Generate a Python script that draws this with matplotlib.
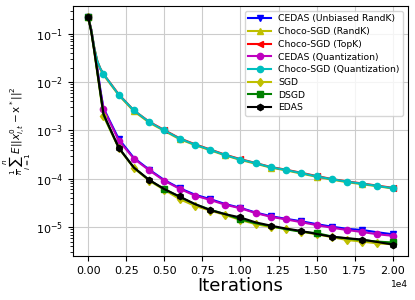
import matplotlib
matplotlib.use("Agg")
import matplotlib.pyplot as plt

iters = [0, 200, 400, 600, 800, 1000, 2000, 3000, 4000, 5000, 6000, 7000, 8000,
         9000, 10000, 11000, 12000, 13000, 14000, 15000, 16000, 17000, 18000,
         19000, 20000]

cedas_randk = [0.22, 0.12, 0.048, 0.019, 0.0068, 0.0029, 6.7e-4, 2.7e-4, 1.55e-4,
               9.4e-5, 6.4e-5, 4.7e-5, 3.8e-5, 3.0e-5, 2.5e-5, 2.0e-5, 1.68e-5,
               1.48e-5, 1.32e-5, 1.15e-5, 1.02e-5, 9.2e-6, 8.7e-6, 7.8e-6, 7.1e-6]
choco_randk = [0.22, 0.12, 0.05, 0.026, 0.0185, 0.0142, 0.0054, 0.0025, 0.00146,
               9.8e-4, 6.6e-4, 5.0e-4, 3.9e-4, 3.05e-4, 2.45e-4, 2.05e-4, 1.7e-4,
               1.49e-4, 1.28e-4, 1.1e-4, 9.6e-5, 8.5e-5, 7.7e-5, 7.0e-5, 6.3e-5]
choco_topk = [0.22, 0.12, 0.05, 0.027, 0.019, 0.0148, 0.0056, 0.0026, 0.00152,
              1.02e-3, 6.9e-4, 5.2e-4, 4.05e-4, 3.15e-4, 2.55e-4, 2.12e-4, 1.75e-4,
              1.54e-4, 1.33e-4, 1.14e-4, 9.9e-5, 8.8e-5, 8.0e-5, 7.2e-5, 6.5e-5]
cedas_quant = [0.22, 0.12, 0.047, 0.018, 0.0065, 0.0028, 6.2e-4, 2.6e-4, 1.5e-4,
               9.1e-5, 6.2e-5, 4.5e-5, 3.65e-5, 2.9e-5, 2.45e-5, 1.95e-5, 1.63e-5,
               1.44e-5, 1.26e-5, 1.1e-5, 9.7e-6, 8.7e-6, 7.9e-6, 7.1e-6, 6.6e-6]
choco_quant = [0.22, 0.12, 0.05, 0.027, 0.019, 0.0147, 0.0055, 0.0026, 0.0015,
               1.0e-3, 6.8e-4, 5.1e-4, 4.0e-4, 3.1e-4, 2.5e-4, 2.1e-4, 1.73e-4,
               1.52e-4, 1.31e-4, 1.12e-4, 9.8e-5, 8.7e-5, 7.9e-5, 7.1e-5, 6.4e-5]
sgd = [0.22, 0.11, 0.042, 0.015, 0.0055, 0.002, 4.3e-4, 1.66e-4, 9.1e-5,
       5.9e-5, 3.8e-5, 2.75e-5, 2.2e-5, 1.78e-5, 1.4e-5, 1.15e-5, 1.0e-5,
       9.3e-6, 8.0e-6, 7.1e-6, 6.2e-6, 5.4e-6, 5.0e-6, 4.6e-6, 4.4e-6]
dsgd = [0.22, 0.11, 0.043, 0.016, 0.0058, 0.0021, 4.4e-4, 1.7e-4, 9.4e-5,
        6.1e-5, 4.2e-5, 3.0e-5, 2.3e-5, 1.85e-5, 1.45e-5, 1.2e-5, 1.05e-5,
        9.0e-6, 8.0e-6, 7.5e-6, 6.4e-6, 5.8e-6, 5.4e-6, 5.0e-6, 4.8e-6]
edas = [0.22, 0.11, 0.044, 0.016, 0.006, 0.0022, 4.4e-4, 1.7e-4, 9.5e-5,
        6.1e-5, 4.3e-5, 3.0e-5, 2.25e-5, 1.85e-5, 1.58e-5, 1.25e-5, 1.07e-5,
        9.3e-6, 8.3e-6, 7.2e-6, 6.3e-6, 5.9e-6, 5.5e-6, 4.9e-6, 4.35e-6]


def every(step):
    return [i for i, x in enumerate(iters) if x % step == 0]


fig = plt.figure(figsize=(4.15, 3.0), dpi=100)
ax = fig.add_axes([0.176, 0.147, 0.807, 0.833])

ms = 4.5
ax.plot(iters, cedas_randk, 'b-v', ms=ms, markevery=every(2000), label='CEDAS (Unbiased RandK)')
ax.plot(iters, choco_randk, 'y-^', ms=ms, markevery=every(3000), label='Choco-SGD (RandK)')
ax.plot(iters, choco_topk, 'r-<', ms=ms, markevery=every(5000), label='Choco-SGD (TopK)')
ax.plot(iters, cedas_quant, 'm-o', ms=ms, markevery=every(1000), label='CEDAS (Quantization)')
ax.plot(iters, choco_quant, 'c-o', ms=ms, markevery=every(1000), label='Choco-SGD (Quantization)')
ax.plot(iters, sgd, 'y-d', ms=ms, markevery=every(1000), label='SGD')
ax.plot(iters, dsgd, 'g-s', ms=ms, markevery=every(5000), label='DSGD')
ax.plot(iters, edas, 'k-h', ms=ms, markevery=every(2000), label='EDAS')

ax.set_yscale('log')
ax.ticklabel_format(axis='x', style='sci', scilimits=(0, 0))
ax.xaxis.get_offset_text().set_fontsize(6.5)
ax.tick_params(labelsize=8)
ax.grid(True, color='#cccccc', linewidth=0.8)
ax.set_xlabel('Iterations', fontsize=13, labelpad=1)
ax.set_ylabel(r'$\frac{1}{n}\sum_{i=1}^{n}E||x_{i,t}^{0}-\mathrm{x}^*||^2$', fontsize=7.5)
ax.yaxis.set_label_coords(-0.12, 0.5)
ax.legend(loc='upper right', fontsize=6.7, handlelength=2.4, labelspacing=0.4,
          borderpad=0.4, framealpha=0.8)

fig.savefig('out.png', dpi=100)
